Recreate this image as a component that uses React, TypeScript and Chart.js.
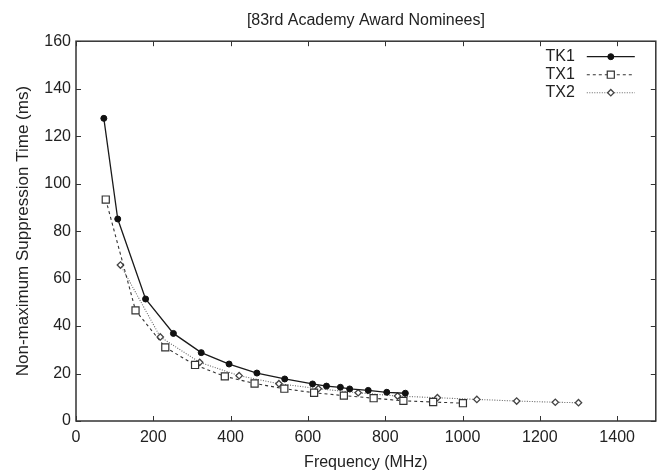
import React, { useEffect, useRef } from "react";
import { Chart, registerables } from "chart.js";

Chart.register(...registerables);

const TITLE = "[83rd Academy Award Nominees]";
const X_LABEL = "Frequency (MHz)";
const Y_LABEL = "Non-maximum Suppression Time (ms)";

const SERIES_NAMES = ["TK1", "TX1", "TX2"];

const TK1_FREQ = [72, 108, 180, 252, 324, 396, 468, 540, 612, 648, 684, 708, 756, 804, 852];
const TK1_TIME = [127.5, 85.1, 51.4, 36.9, 28.8, 24.0, 20.2, 17.7, 15.6, 14.7, 14.2, 13.5, 12.9, 12.1, 11.7];

const TX1_FREQ = [77, 154, 231, 308, 385, 462, 539, 616, 693, 770, 847, 924, 1001];
const TX1_TIME = [93.3, 46.6, 31.0, 23.6, 18.8, 15.8, 13.6, 11.9, 10.7, 9.6, 8.5, 8.0, 7.5];

const TX2_FREQ = [115, 218, 320, 422, 525, 627, 730, 832, 935, 1037, 1140, 1240, 1300];
const TX2_TIME = [65.7, 35.4, 24.7, 19.1, 15.7, 13.6, 11.9, 10.5, 9.8, 9.1, 8.4, 7.9, 7.7];

const X_TICKS = [0, 200, 400, 600, 800, 1000, 1200, 1400];
const Y_TICKS = [0, 20, 40, 60, 80, 100, 120, 140, 160];

const FONT = "'Liberation Sans', Arial, Helvetica, sans-serif";
const TEXT = "#222";

function pts(xs: number[], ys: number[]) {
  return xs.map((x, i) => ({ x, y: ys[i] }));
}

function drawMarker(ctx: CanvasRenderingContext2D, style: string, x: number, y: number, r: number, fill: string, stroke: string, lw: number) {
  ctx.save();
  ctx.setLineDash([]);
  ctx.fillStyle = fill;
  ctx.strokeStyle = stroke;
  ctx.lineWidth = lw;
  ctx.beginPath();
  if (style === "circle") {
    ctx.arc(x, y, r, 0, Math.PI * 2);
  } else if (style === "rect") {
    const s = r * Math.SQRT1_2;
    ctx.rect(x - s, y - s, 2 * s, 2 * s);
  } else {
    ctx.moveTo(x - r, y);
    ctx.lineTo(x, y - r);
    ctx.lineTo(x + r, y);
    ctx.lineTo(x, y + r);
    ctx.closePath();
  }
  ctx.fill();
  ctx.stroke();
  ctx.restore();
}

const framePlugin = {
  id: "frame",
  beforeDatasetsDraw(chart: any) {
    const { ctx, chartArea } = chart;
    const { left, right, top, bottom } = chartArea;
    const xs = chart.scales.x;
    const ys = chart.scales.y;
    ctx.save();
    ctx.strokeStyle = "#333";
    ctx.lineWidth = 1.5;
    ctx.strokeRect(left, top, right - left, bottom - top);
    ctx.lineWidth = 1;
    const L = 5;
    ctx.beginPath();
    X_TICKS.forEach((t) => {
      const px = Math.round(xs.getPixelForValue(t)) + 0.5;
      ctx.moveTo(px, bottom);
      ctx.lineTo(px, bottom - L);
      ctx.moveTo(px, top);
      ctx.lineTo(px, top + L);
    });
    Y_TICKS.forEach((t) => {
      const py = Math.round(ys.getPixelForValue(t)) + 0.5;
      ctx.moveTo(left, py);
      ctx.lineTo(left + L, py);
      ctx.moveTo(right, py);
      ctx.lineTo(right - L, py);
    });
    ctx.stroke();
    ctx.restore();
  },
};

const legendPlugin = {
  id: "customLegend",
  afterDraw(chart: any) {
    const { ctx, chartArea } = chart;
    const textRight = chartArea.right - 81;
    const lineStart = chartArea.right - 69;
    const lineEnd = chartArea.right - 21;
    const firstY = chartArea.top + 15;
    const rowH = 18;
    ctx.save();
    chart.data.datasets.forEach((ds: any, i: number) => {
      const y = firstY + i * rowH;
      ctx.fillStyle = TEXT;
      ctx.font = `16px ${FONT}`;
      ctx.textAlign = "right";
      ctx.textBaseline = "middle";
      ctx.fillText(ds.label, textRight, y);
      ctx.strokeStyle = ds.borderColor;
      ctx.lineWidth = ds.borderWidth;
      ctx.setLineDash(ds.borderDash || []);
      ctx.beginPath();
      ctx.moveTo(lineStart, y + 0.5);
      ctx.lineTo(lineEnd, y + 0.5);
      ctx.stroke();
      drawMarker(ctx, ds.pointStyle, (lineStart + lineEnd) / 2, y + 0.5, ds.pointRadius, ds.pointBackgroundColor, ds.pointBorderColor, ds.pointBorderWidth);
    });
    ctx.restore();
  },
};

export default function App() {
  const ref = useRef<HTMLCanvasElement | null>(null);

  useEffect(() => {
    if (!ref.current) return;
    const chart = new Chart(ref.current, {
      type: "line",
      data: {
        datasets: [
          {
            label: SERIES_NAMES[0],
            data: pts(TK1_FREQ, TK1_TIME),
            borderColor: "#1a1a1a",
            borderWidth: 1.3,
            pointStyle: "circle",
            pointRadius: 3,
            pointBackgroundColor: "#111",
            pointBorderColor: "#111",
            pointBorderWidth: 1,
            tension: 0,
          },
          {
            label: SERIES_NAMES[1],
            data: pts(TX1_FREQ, TX1_TIME),
            borderColor: "#333",
            borderWidth: 1.1,
            borderDash: [3, 3],
            pointStyle: "rect",
            pointRadius: 5,
            pointBackgroundColor: "#fff",
            pointBorderColor: "#333",
            pointBorderWidth: 1.2,
            tension: 0,
          },
          {
            label: SERIES_NAMES[2],
            data: pts(TX2_FREQ, TX2_TIME),
            borderColor: "#666",
            borderWidth: 1.1,
            borderDash: [1, 1.5],
            pointStyle: "rectRot",
            pointRadius: 3.2,
            pointBackgroundColor: "#fff",
            pointBorderColor: "#444",
            pointBorderWidth: 1.3,
            tension: 0,
          },
        ],
      },
      options: {
        responsive: false,
        animation: false,
        layout: { padding: { top: 0, right: 6, bottom: 0, left: 0 } },
        plugins: {
          legend: { display: false },
          tooltip: { enabled: false },
          title: {
            display: true,
            text: TITLE,
            fullSize: false,
            color: TEXT,
            font: { family: FONT, size: 16, weight: "normal" },
            padding: { top: 11, bottom: 11 },
          },
        },
        scales: {
          x: {
            type: "linear",
            min: 0,
            max: 1500,
            grid: { display: false, drawTicks: false },
            border: { display: false },
            ticks: {
              stepSize: 200,
              includeBounds: false,
              color: TEXT,
              font: { family: FONT, size: 16 },
              padding: 7,
              maxRotation: 0,
              callback: (v: any) => String(v),
            },
            title: {
              display: true,
              text: X_LABEL,
              color: TEXT,
              font: { family: FONT, size: 16 },
              padding: { top: 0, bottom: 3 },
            },
            afterFit: (scale: any) => {
              scale.height = 54;
            },
          },
          y: {
            type: "linear",
            min: 0,
            max: 160,
            grid: { display: false, drawTicks: false },
            border: { display: false },
            ticks: {
              stepSize: 20,
              color: TEXT,
              font: { family: FONT, size: 16 },
              padding: 5,
              callback: (v: any) => String(v),
            },
            title: {
              display: true,
              text: Y_LABEL,
              color: TEXT,
              font: { family: FONT, size: 17 },
              padding: { top: 13, bottom: 0 },
            },
            afterFit: (scale: any) => {
              scale.width = 76;
            },
          },
        },
      } as any,
      plugins: [framePlugin, legendPlugin],
    });
    return () => chart.destroy();
  }, []);

  return (
    <div style={{ position: "absolute", left: 0, top: 0, width: 662, height: 475, background: "#fff" }}>
      <canvas ref={ref} width={662} height={475} style={{ display: "block" }} />
    </div>
  );
}
